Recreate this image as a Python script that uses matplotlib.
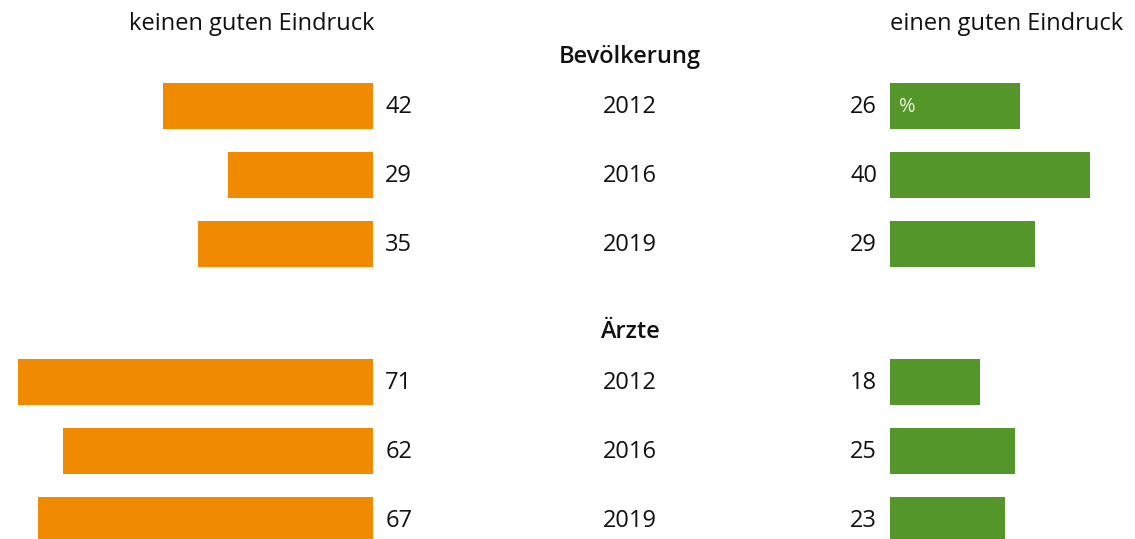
import matplotlib
matplotlib.use('Agg')
import matplotlib.pyplot as plt

# data
groups = ["Bevölkerung", "Ärzte"]
years = ["2012", "2016", "2019", "2012", "2016", "2019"]
rows = [0, 1, 2, 4, 5, 6]
kein_guter = [42, 29, 35, 71, 62, 67]
guter = [26, 40, 29, 18, 25, 23]

ORANGE = "#F08A00"
GREEN = "#54962A"
TXT = "#111111"

plt.rcParams['font.family'] = ['Open Sans', 'DejaVu Sans']

W, H = 1135, 539
fig = plt.figure(figsize=(W / 100, H / 100), dpi=100)

# y range in row units (row pitch 69 px, first row centre at 106 px)
ytop, ybot = -106 / 69, (H - 106) / 69
left_end = 372.7      # px where orange bars end
right_start = 889.7   # px where green bars start
px_per_unit = 5.0

# text layer in pixel x / row y
ax = fig.add_axes([0, 0, 1, 1])
ax.set_xlim(0, W)
ax.set_ylim(ybot, ytop)
ax.axis('off')

# left bars (grow to the left)
axl = fig.add_axes([0, 0, left_end / W, 1])
axl.barh(rows, kein_guter, height=0.667, color=ORANGE)
axl.set_xlim(left_end / px_per_unit, 0)
axl.set_ylim(ybot, ytop)
axl.axis('off')

# right bars
axr = fig.add_axes([right_start / W, 0, (W - right_start) / W, 1])
axr.barh(rows, guter, height=0.667, color=GREEN)
axr.set_xlim(0, (W - right_start) / px_per_unit)
axr.set_ylim(ybot, ytop)
axr.axis('off')

fs = 17
base = 0.105  # baseline offset below row centre

for r, y, a, b in zip(rows, years, kein_guter, guter):
    axl.annotate(str(a), (0, r + base), xytext=(9, 0), textcoords='offset points',
                 ha='left', va='baseline', fontsize=fs, color=TXT, annotation_clip=False)
    axr.annotate(str(b), (0, r + base), xytext=(-9, 0), textcoords='offset points',
                 ha='right', va='baseline', fontsize=fs, color=TXT, annotation_clip=False)
    ax.text(630, r + base, y, ha='center', va='baseline', fontsize=fs, color=TXT)

axr.annotate("%", (0, rows[0] + 0.09), xytext=(7, 0), textcoords='offset points',
             ha='left', va='baseline', fontsize=14.5, color="#e8f0e0")

ax.text(left_end + 2, -1.101, "keinen guten Eindruck", ha='right', va='baseline',
        fontsize=fs, color=TXT)
ax.text(right_start, -1.101, "einen guten Eindruck", ha='left', va='baseline',
        fontsize=fs, color=TXT)
ax.text(630, -0.623, groups[0], ha='center', va='baseline', fontsize=fs,
        fontweight='semibold', color=TXT)
ax.text(630, 3.362, groups[1], ha='center', va='baseline', fontsize=fs,
        fontweight='semibold', color=TXT)

fig.savefig("out.png", dpi=100, facecolor='white')
